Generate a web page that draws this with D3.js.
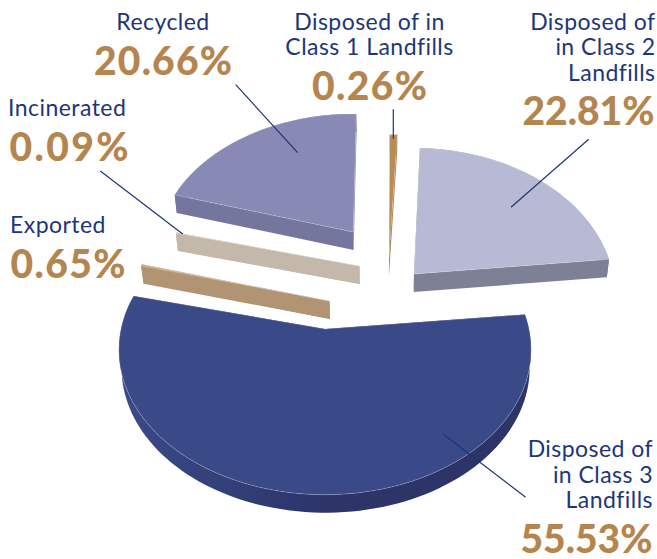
<!DOCTYPE html>
<html>
<head>
<meta charset="utf-8">
<script src="https://cdnjs.cloudflare.com/ajax/libs/d3/7.8.5/d3.min.js"></script>
<style>
    html, body { margin: 0; background: #fff; }
    svg { display: block; }
    .name { font-family: Lato, sans-serif; font-size: 23px; letter-spacing: 0.45px; fill: #1d3679; }
    .pct { font-family: Lato, sans-serif; font-size: 39px; font-weight: 900; fill: #b5854f; }
    .leader { stroke: #1d3679; stroke-width: 1.2; fill: none; }
</style>
</head>
<body>
<div id="chart"></div>
<script>
//数据
const categories = ["Disposed of in Class 1 Landfills", "Disposed of in Class 2 Landfills",
    "Disposed of in Class 3 Landfills", "Exported", "Incinerated", "Recycled"];
const shares = [0.26, 22.81, 55.53, 0.65, 0.09, 20.66];
const share_labels = ["0.26%", "22.81%", "55.53%", "0.65%", "0.09%", "20.66%"];
const name_lines = [
    ["Disposed of in", "Class 1 Landfills"],
    ["Disposed of", "in Class 2", "Landfills"],
    ["Disposed of", "in Class 3", "Landfills"],
    ["Exported"],
    ["Incinerated"],
    ["Recycled"]
];

//绘图及显示属性
const width = 657;
const height = 559;
const depth = 18;       // 饼的厚度
const persp = 0.143;    // 透视
const converge = 0.01;
const vanish_x = 385;
const start_deg = 1;

// 每块饼的位置(爆炸后手工摆放), 半径, 颜色
const slice_layout = [
    {x: 389, y: 258, rx: 199, ry: 141, top: "#b98b55", wall: "#a9814f", span: 2.65},
    {x: 414, y: 274, rx: 199, ry: 144, top: "#b7b9d5", wall: "#7e8095", span: 1},
    {x: 325, y: 329, rx: 204, ry: 142, top: "#3a4a88", wall: "url(#wall_fade)", span: 1},
    {x: 329.5, y: 301, rx: 202, ry: 143, top: "#cdab82", wall: "#b09474", span: 0.25},
    {x: 359.5, y: 266, rx: 199, ry: 122, top: "#d9c2a6", wall: "#c4b8aa", span: 1},
    {x: 353.3, y: 232, rx: 194, ry: 135, top: "#8889b5", wall: "#75769e", span: 1}
];

// 文字位置: anchor, x, 各行基线, 百分比基线, 百分比宽度
const label_layout = [
    {anchor: "middle", x: 369.5, lines: [30, 55], pct_x: 369.5, pct_y: 100, pct_w: 115},
    {anchor: "end", x: 655.5, lines: [30, 55, 81], pct_x: 654.5, pct_y: 125, pct_w: 132},
    {anchor: "end", x: 653, lines: [457, 483, 508], pct_x: 652.5, pct_y: 553, pct_w: 132},
    {anchor: "start", x: 10, lines: [232.5], pct_x: 10.5, pct_y: 277.5, pct_w: 115},
    {anchor: "start", x: 8, lines: [116], pct_x: 9.5, pct_y: 161, pct_w: 119},
    {anchor: "middle", x: 163, lines: [30], pct_x: 163, pct_y: 75, pct_w: 138}
];

// 引导线
const leader_layout = [
    [393.3, 109.3, 393.3, 138.7],
    [588.7, 139.3, 511, 207.3],
    [443.3, 434.3, 525.7, 497.3],
    null,
    [100.3, 171, 182.7, 234],
    [235.7, 84.7, 297.7, 152.7]
];

var svg = d3.select("#chart").append("svg")
    .attr("width", width).attr("height", height);

// 大块饼的侧面从左到右变暗
var fade = svg.append("defs").append("linearGradient")
    .attr("id", "wall_fade")
    .attr("gradientUnits", "userSpaceOnUse")
    .attr("x1", 125).attr("x2", 330).attr("y1", 0).attr("y2", 0);
fade.append("stop").attr("offset", 0).attr("stop-color", "#3a4a88");
fade.append("stop").attr("offset", 1).attr("stop-color", "#2c3468");

var g_slices = svg.append("g").attr("id", "slices");
var g_leaders = svg.append("g").attr("id", "leaders");
var g_labels = svg.append("g").attr("id", "labels");

var rad = d3.scaleLinear().domain([0, 180]).range([0, Math.PI]);

var pie = d3.pie().sort(null)
    .startAngle(rad(start_deg))
    .endAngle(rad(start_deg + 360));

var line = d3.line().curve(d3.curveLinearClosed);

function project(s, a) {
    let w = 1 + persp * Math.cos(a);
    return [s.x + s.rx * Math.sin(a) / w, s.y - s.ry * Math.cos(a) / w];
}

function lower(p) {
    return [p[0] + (vanish_x - p[0]) * converge, p[1] + depth];
}

function draw_slice(d, i) {
    let s = slice_layout[i];
    let mid = (d.startAngle + d.endAngle) / 2;
    let half = (d.endAngle - d.startAngle) * s.span / 2;
    let steps = Math.max(2, Math.ceil(half * 60));
    let arc_pts = d3.range(steps + 1).map(k => project(s, mid - half + 2 * half * k / steps));
    let apex = [s.x, s.y];
    let first = arc_pts[0];
    let last = arc_pts[arc_pts.length - 1];
    let outline = [apex].concat(arc_pts);
    let g = d3.select(this);

    // 侧面: 两条直边 + 外弧
    let walls = [
        [apex, first, lower(first), lower(apex)],
        [apex, last, lower(last), lower(apex)],
        arc_pts.concat(arc_pts.map(lower).reverse())
    ];
    g.selectAll(".wall")
        .data(walls)
        .enter()
        .append("path")
        .attr("class", "wall")
        .attr("fill", s.wall)
        .attr("d", line);

    g.append("path")
        .attr("class", "top")
        .attr("fill", s.top)
        .attr("stroke", "#fff")
        .attr("stroke-opacity", 0.3)
        .attr("stroke-width", 0.7)
        .attr("d", line(outline));
}

g_slices.selectAll(".slice")
    .data(pie(shares))
    .enter()
    .append("g")
    .attr("class", "slice")
    .each(draw_slice);

g_leaders.selectAll(".leader")
    .data(leader_layout.filter(d => d))
    .enter()
    .append("line")
    .attr("class", "leader")
    .attr("x1", d => d[0])
    .attr("y1", d => d[1])
    .attr("x2", d => d[2])
    .attr("y2", d => d[3]);

categories.forEach(function (c, i) {
    let l = label_layout[i];
    name_lines[i].forEach(function (t, k) {
        g_labels.append("text")
            .attr("class", "name")
            .attr("text-anchor", l.anchor)
            .attr("x", l.x)
            .attr("y", l.lines[k])
            .text(t);
    });
    g_labels.append("text")
        .attr("class", "pct")
        .attr("text-anchor", l.anchor)
        .attr("x", l.pct_x)
        .attr("y", l.pct_y)
        .attr("textLength", l.pct_w)
        .text(share_labels[i]);
});
</script>
</body>
</html>
